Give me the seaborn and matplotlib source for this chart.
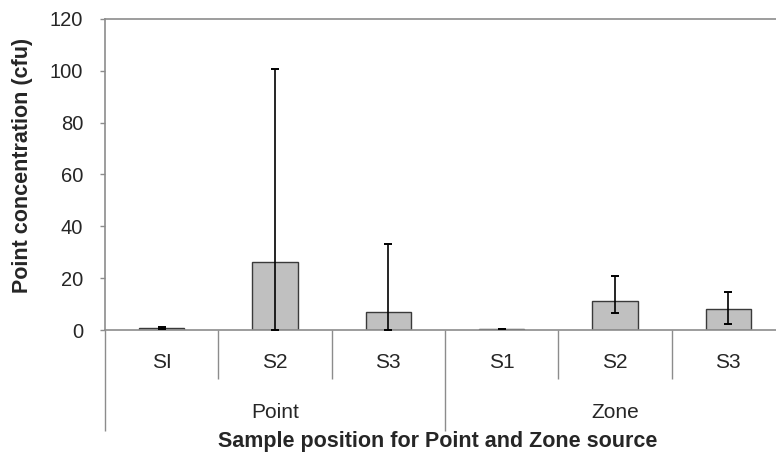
import matplotlib
matplotlib.use("Agg")
import matplotlib.pyplot as plt
import matplotlib.transforms as mtransforms
import seaborn as sns
import pandas as pd

# Data
groups = ["Point", "Point", "Point", "Zone", "Zone", "Zone"]
samples = ["SI", "S2", "S3", "S1", "S2", "S3"]
means = [0.6, 26.3, 6.9, 0.3, 11.2, 8.2]
err_low = [0.3, 26.3, 6.9, 0.1, 4.8, 5.9]
err_high = [0.6, 74.5, 26.3, 0.1, 9.6, 6.3]
group_names = ["Point", "Zone"]
y_ticks = [0, 20, 40, 60, 80, 100, 120]

sns.set_theme(style="white")
plt.rcParams["font.family"] = ["Liberation Sans", "DejaVu Sans"]

df = pd.DataFrame({
    "key": [f"{g}|{s}" for g, s in zip(groups, samples)],
    "group": groups,
    "sample": samples,
    "value": means,
})

fig = plt.figure(figsize=(7.76, 4.57), dpi=100)
W, H = 776, 457
ax = fig.add_axes([105 / W, 1 - 330 / H, 680 / W, 311 / H])

sns.barplot(data=df, x="key", y="value", order=list(df["key"]), color="#c0c0c0",
            edgecolor="#3a3a3a", linewidth=1.0, width=0.4, errorbar=None,
            saturation=1, ax=ax)
ax.errorbar(range(len(means)), means, yerr=[err_low, err_high], fmt="none",
            ecolor="black", elinewidth=1.2, capsize=3, capthick=1.4, zorder=5)

ax.set_xlim(-0.5, len(means) - 0.5)
ax.set_ylim(0, 120)
ax.set_yticks(y_ticks)
ax.set_xlabel("")
ax.set_ylabel("")

spine_color = "#8c8c8c"
for side in ["left", "bottom", "top"]:
    ax.spines[side].set_visible(True)
    ax.spines[side].set_color(spine_color)
    ax.spines[side].set_linewidth(1.2)
ax.spines["right"].set_visible(False)

ax.tick_params(axis="y", which="major", direction="out", length=3.6, width=1,
               color=spine_color, pad=12, labelsize=14.5, left=True)

# Hierarchical category axis: short dividers between samples, long ones between groups
ax.set_xticks([0.5, 1.5, 3.5, 4.5])
ax.set_xticks([-0.5, 2.5, 5.5], minor=True)
ax.set_xticklabels([])
ax.tick_params(axis="x", which="major", direction="out", length=35, width=1,
               color=spine_color, bottom=True)
ax.tick_params(axis="x", which="minor", direction="out", length=73, width=1,
               color=spine_color, bottom=True)

base = ax.get_xaxis_transform()
t_samples = mtransforms.offset_copy(base, fig=fig, y=-32, units="dots")
t_groups = mtransforms.offset_copy(base, fig=fig, y=-83, units="dots")
for i, s in enumerate(samples):
    ax.text(i, 0, s, transform=t_samples, ha="center", va="center", fontsize=15)
for j, g in enumerate(group_names):
    ax.text(3 * j + 1, 0, g, transform=t_groups, ha="center", va="center", fontsize=15)

fig.text(438 / W, 1 - 441 / H, "Sample position for Point and Zone source",
         ha="center", va="center", fontsize=15.5, fontweight="bold")
fig.text(23 / W, 1 - 165 / H, "Point concentration (cfu)", rotation=90,
         ha="center", va="center", fontsize=15.5, fontweight="bold")

fig.savefig("out.png", dpi=100)
